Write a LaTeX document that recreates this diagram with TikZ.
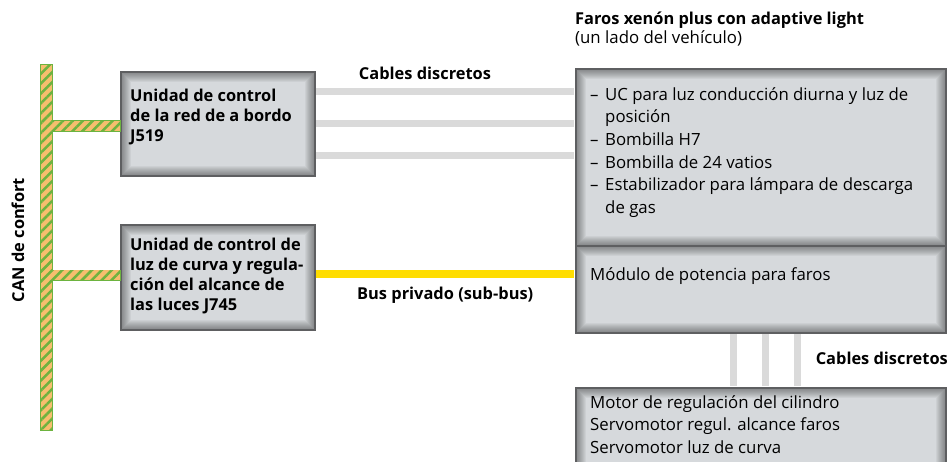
\documentclass[tikz,border=0pt]{standalone}
\usepackage{fontspec}
\setmainfont{Open Sans}
\usetikzlibrary{calc,patterns.meta}
\definecolor{boxfill}{HTML}{D6D9DC}
\definecolor{boxline}{HTML}{5E5F61}
\definecolor{cablegray}{HTML}{DADADA}
\definecolor{busyellow}{HTML}{FFDD00}
\definecolor{canorange}{HTML}{F7BE6E}
\definecolor{cangreen}{HTML}{6DB33F}
\begin{document}
\begin{tikzpicture}[x=1pt,y=-1pt,
  box/.style={draw=boxline, line width=1.6pt, fill=boxfill, inner sep=0pt, anchor=north west,
    path picture={\foreach \k in {1,...,10}{
      \draw[black, opacity=0.045, line width=\k*2pt]
        (path picture bounding box.south west) rectangle (path picture bounding box.north east);}}},
  bl/.style={inner sep=0pt, align=left, font=\fontsize{16.4}{20}\selectfont\bfseries},
  rl/.style={inner sep=0pt, align=left, font=\fontsize{16.8}{22.7}\selectfont},
  cable/.style={cablegray, line width=7pt},
  subbus/.style={busyellow, line width=8pt},
  canedge/.style={draw=cangreen, line width=1.4pt},
  canfill/.style={fill=canorange, postaction={pattern={Lines[angle=45,distance=7pt,line width=2.5pt]}, pattern color=cangreen}},
]
\useasboundingbox (0,0) rectangle (951,461);
\clip (0,0) rectangle (951,461);

% boxes
\node[box, minimum width=194, minimum height=104] (j519) at (120,71) {};
\node[box, minimum width=194, minimum height=105] (j745) at (120,224) {};
\node[box, minimum width=370, minimum height=177] (hlu) at (575,68) {};
\node[box, minimum width=370, minimum height=87] (hll) at (575,245) {};
\node[box, minimum width=370, minimum height=95] (act) at (575,387) {};

% CAN bus
\coordinate (cantop) at (46.5,65);
\coordinate (canbot) at (46.5,430);
\foreach \s in {canedge,canfill}{
  \path[\s] ($(cantop)+(-5.5,0)$) rectangle ($(canbot)+(5.5,0)$);
  \path[\s] ($(cantop |- j519.west)+(0,-3)$) rectangle ($(j519.west)+(0,7)$);
  \path[\s] ($(cantop |- j745.west)+(0,-7)$) rectangle ($(j745.west)+(0,3)$);
}
\node[bl, rotate=90] (canlbl) at (18,240) {CAN de confort};

% discrete cables
\foreach \d in {20,52,84}{
  \draw[cable] ($(j519.north east)+(0.8,\d)$) -- ($(hlu.north west |- 0,71)+(-0.8,\d)$);
}
\node[bl] (cabl1) at (425,73) {Cables discretos};

% private bus
\draw[subbus] ($(j745.north east)+(0.8,50)$) -- ($(hll.north west)+(-0.8,29)$);
\node[bl, anchor=west] (buslbl) at (357,295) {Bus privado (sub-bus)};

% vertical cables
\foreach \d in {158,190,222}{
  \draw[cable] ($(hll.south west)+(\d,0.8)$) -- ($(act.north west)+(\d,-0.8)$);
}
\node[bl, anchor=east] (cabl2) at (948,358) {Cables discretos};

% texts in boxes
\node[bl, anchor=north west] (j519t) at ($(j519.north west)+(10,18)$)
  {Unidad de control\\de la red de a bordo\\J519};
\node[bl, anchor=north west] (j745t) at ($(j745.north west)+(10,14)$)
  {Unidad de control de\\luz de curva y regula-\\ción del alcance de\\las luces J745};

\node[bl, anchor=north west] (title) at (575,12) {Faros xenón plus con adaptive light};
\node[rl, anchor=north west] (subtitle) at (575,30) {(un lado del vehículo)};

\node[rl, anchor=north west] (hlut) at ($(hlu.north west)+(15,19)$)
  {\makebox[15pt][l]{–}UC para luz conducción diurna y luz de\\
   \hspace*{15pt}posición\\
   \makebox[15pt][l]{–}Bombilla H7\\
   \makebox[15pt][l]{–}Bombilla de 24 vatios\\
   \makebox[15pt][l]{–}Estabilizador para lámpara de descarga\\
   \hspace*{15pt}de gas};
\node[rl, anchor=north west] (hllt) at ($(hll.north west)+(15,22)$) {Módulo de potencia para faros};
\node[rl, anchor=north west] (actt) at ($(act.north west)+(15,8)$)
  {Motor de regulación del cilindro\\Servomotor regul. alcance faros\\Servomotor luz de curva};
\end{tikzpicture}
\end{document}
